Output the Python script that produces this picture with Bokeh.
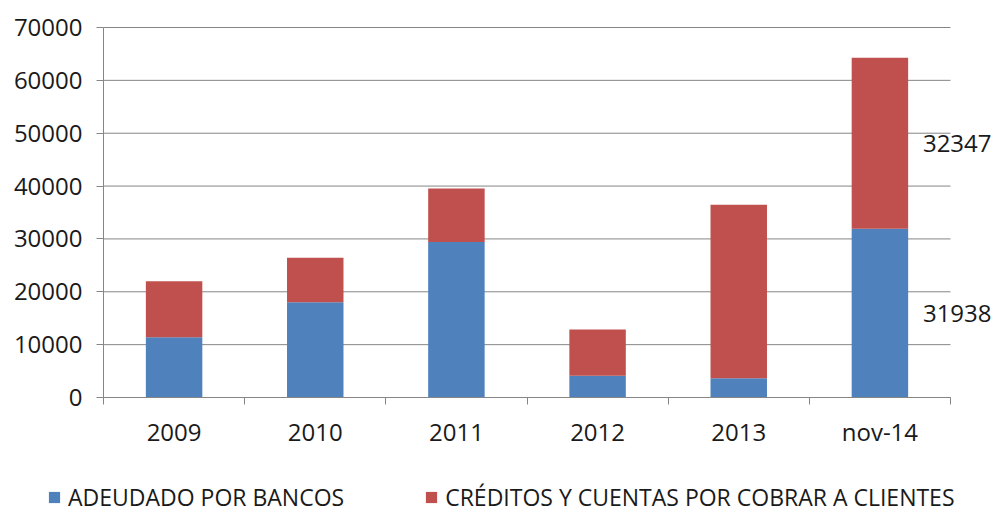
from bokeh.plotting import figure
from bokeh.models import (ColumnDataSource, FixedTicker, Range1d, Legend, LegendItem,
                          LabelSet, NumeralTickFormatter, LinearAxis)
from bokeh.core.properties import value
from bokeh.embed import file_html
from bokeh.resources import INLINE

categories = ["2009", "2010", "2011", "2012", "2013", "nov-14"]
adeudado = [11400, 18000, 29400, 4100, 3650, 31938]
creditos = [10600, 8450, 10150, 8760, 32800, 32347]
y_ticks = [0, 10000, 20000, 30000, 40000, 50000, 60000, 70000]
series_names = ["ADEUDADO POR BANCOS", "CRÉDITOS Y CUENTAS POR COBRAR A CLIENTES"]

BLUE = "#4F81BD"
RED = "#C0504D"
GRAY = "#868686"
TEXT = "#1a1a1a"
FONT = "Open Sans"

W, H = 995, 513
# plot-area pixel box inside the canvas (layout constants)
PX_L, PX_R, PX_T, PX_B = 103, 950, 27, 397

n = len(categories)
centers = [i + 0.5 for i in range(n)]
bounds = [i for i in range(n + 1)]

ymin, ymax = y_ticks[0], y_ticks[-1]
xs = n / (PX_R - PX_L)              # data units per px (x)
ys = (ymax - ymin) / (PX_B - PX_T)  # data units per px (y)
x_range = Range1d(0 - PX_L * xs, n + (W - PX_R) * xs)
y_range = Range1d(ymin - (H - PX_B) * ys, ymax + PX_T * ys)

src = ColumnDataSource(dict(x=centers, adeudado=adeudado, creditos=creditos))

p = figure(width=W, height=H, output_backend="svg", toolbar_location=None,
           x_range=x_range, y_range=y_range,
           x_axis_location=None, y_axis_location=None,
           min_border=0)
p.outline_line_color = None
p.background_fill_color = "white"
p.border_fill_color = "white"
p.grid.visible = False

# horizontal gridlines at the y ticks, spanning the category area
p.segment(x0=[0] * len(y_ticks), x1=[n] * len(y_ticks), y0=y_ticks, y1=y_ticks,
          line_color=GRAY, line_width=1)

rs = p.vbar_stack(["adeudado", "creditos"], x="x", width=0.4, color=[BLUE, RED],
                  line_color=None, source=src)

# data labels for last category
last = n - 1
lab_src = ColumnDataSource(dict(
    x=[centers[last], centers[last]],
    y=[adeudado[last] / 2, adeudado[last] + creditos[last] / 2],
    t=[str(adeudado[last]), str(creditos[last])],
))
labels = LabelSet(x="x", y="y", text="t", source=lab_src, x_offset=43,
                  text_align="left", text_baseline="middle",
                  text_font=value(FONT), text_font_size="24px", text_color=TEXT)
p.add_layout(labels)

ya = LinearAxis(fixed_location=0, bounds=(ymin, ymax))
ya.ticker = FixedTicker(ticks=y_ticks)
ya.formatter = NumeralTickFormatter(format="0")
ya.axis_line_color = GRAY
ya.major_tick_line_color = GRAY
ya.major_tick_in = 0
ya.major_tick_out = 7
ya.minor_tick_line_color = None
ya.major_label_standoff = 14
ya.major_label_text_font = FONT
ya.major_label_text_font_size = "24px"
ya.major_label_text_color = TEXT
p.add_layout(ya, "left")

xa = LinearAxis(fixed_location=0, bounds=(0, n))
xa.ticker = FixedTicker(ticks=centers, minor_ticks=bounds)
xa.major_label_overrides = {c: cat for c, cat in zip(centers, categories)}
xa.axis_line_color = GRAY
xa.major_tick_line_color = None
xa.minor_tick_line_color = GRAY
xa.minor_tick_in = 0
xa.minor_tick_out = 7
xa.major_label_standoff = 10
xa.major_label_text_font = FONT
xa.major_label_text_font_size = "24px"
xa.major_label_text_color = TEXT
p.add_layout(xa, "below")

legend = Legend(items=[LegendItem(label=series_names[i], renderers=[rs[i]]) for i in range(2)],
                orientation="horizontal", location=(47, 0),
                border_line_color=None, background_fill_alpha=0,
                padding=0, margin=0, spacing=80, label_standoff=7,
                glyph_width=14, glyph_height=14,
                label_text_font=FONT, label_text_font_size="23px",
                label_text_color=TEXT)
p.add_layout(legend, "center")

open("out.html", "w").write(file_html(p, INLINE))
